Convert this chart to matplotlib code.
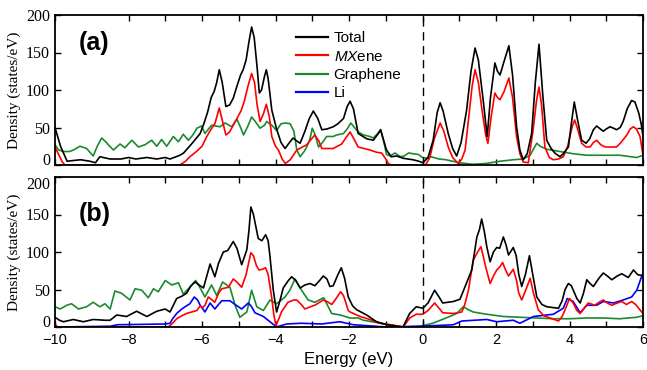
import numpy as np
import matplotlib
matplotlib.use("Agg")
import matplotlib.pyplot as plt
from matplotlib.ticker import FixedLocator

plt.rcParams['font.family'] = ['Liberation Sans', 'DejaVu Sans']
plt.rcParams['mathtext.fontset'] = 'custom'
plt.rcParams['mathtext.it'] = 'Liberation Sans:italic'
plt.rcParams['mathtext.rm'] = 'Liberation Sans'

# ---- panel (a): Li-free ----
a_total_E = [-10, -9.85, -9.67, -9.5, -9.3, -9.05, -8.9, -8.78, -8.5, -8.2, -8.0, -7.8, -7.5, -7.23, -7.0, -6.87,
             -6.6, -6.5, -6.25, -6.05, -5.95, -5.85, -5.75, -5.67, -5.6, -5.53, -5.45, -5.35, -5.25, -5.15, -5.05,
             -4.95, -4.88, -4.8, -4.72, -4.65, -4.58, -4.5, -4.44, -4.38, -4.3, -4.25, -4.2, -4.1, -3.97, -3.85,
             -3.74, -3.62, -3.52, -3.42, -3.33, -3.2, -3.08, -2.97, -2.85, -2.74, -2.6, -2.43, -2.3, -2.15, -2.05,
             -1.97, -1.88, -1.75, -1.52, -1.34, -1.2, -1.14, -1.05, -0.98, -0.85, -0.7, -0.53, -0.4, -0.26, -0.1,
             0.01, 0.15, 0.29, 0.4, 0.48, 0.56, 0.7, 0.82, 0.93, 1.05, 1.2, 1.32, 1.43, 1.52, 1.65, 1.76, 1.85,
             1.97, 2.04, 2.11, 2.2, 2.35, 2.45, 2.56, 2.65, 2.74, 2.85, 2.97, 3.07, 3.17, 3.27, 3.38, 3.5, 3.6,
             3.74, 3.83, 3.97, 4.05, 4.13, 4.22, 4.33, 4.45, 4.55, 4.65, 4.74, 4.84, 4.92, 5.0, 5.1, 5.2, 5.28,
             5.38, 5.46, 5.57, 5.69, 5.78, 5.88, 5.95, 6.0]
a_total = [50, 25, 5, 6, 7, 5, 3, 11, 8, 8, 10, 8, 10, 8, 10, 8,
           13, 16, 30, 42, 55, 70, 90, 98, 110, 127, 110, 78, 80, 89, 105,
           120, 127, 140, 165, 184, 170, 130, 96, 100, 118, 127, 115, 73, 48, 30,
           22, 30, 36, 32, 29, 45, 62, 72, 62, 47, 48, 51, 55, 62, 78,
           85, 75, 42, 35, 33, 42, 47, 32, 20, 11, 12, 9, 8, 7, 5,
           3, 10, 33, 70, 83, 72, 42, 22, 12, 30, 73, 125, 156, 140, 87, 38, 90,
           136, 125, 120, 135, 159, 120, 51, 20, 7, 15, 42, 110, 161, 95, 33, 22, 16,
           11, 15, 24, 55, 84, 60, 33, 29, 35, 47, 52, 48, 45, 48, 51, 49, 47,
           50, 58, 75, 86, 84, 70, 55, 38]

a_mx_E = [-10, -9.9, -9.8, -9.73, -6.6, -6.45, -6.33, -6.15, -6.0, -5.87, -5.75, -5.65, -5.53, -5.45, -5.35, -5.25,
          -5.15, -5.05, -4.93, -4.85, -4.75, -4.65, -4.57, -4.5, -4.42, -4.33, -4.25, -4.17, -4.1, -4.0, -3.92,
          -3.82, -3.73, -3.6, -3.42, -3.15, -3.05, -2.93, -2.82, -2.74, -2.43, -2.2, -2.06, -1.97, -1.88, -1.75,
          -1.43, -1.25, -1.11, -1.0, -0.93, -0.85, 0.08, 0.2, 0.32, 0.48, 0.58, 0.7, 0.82, 0.97, 1.07, 1.16,
          1.25, 1.35, 1.43, 1.52, 1.62, 1.72, 1.78, 1.87, 1.97, 2.04, 2.11, 2.22, 2.35, 2.45, 2.56, 2.65, 2.74,
          2.88, 3.01, 3.1, 3.17, 3.24, 3.33, 3.45, 3.56, 3.7, 3.83, 3.95, 4.01, 4.08, 4.14, 4.22, 4.33, 4.45,
          4.56, 4.65, 4.74, 4.85, 4.97, 5.15, 5.28, 5.4, 5.56, 5.65, 5.74, 5.82, 5.92, 6.0]
a_mx = [24, 14, 4, 0, 0, 5, 11, 18, 25, 38, 48, 55, 76, 60, 40, 44,
        53, 62, 73, 85, 105, 122, 110, 80, 58, 68, 81, 65, 38, 25, 20,
        8, 2, 7, 20, 27, 33, 40, 32, 22, 22, 28, 38, 44, 36, 24,
        20, 17, 16, 8, 2, 0, 0, 10, 35, 56, 45, 24, 10, 2, 8, 20,
        60, 105, 127, 110, 73, 40, 29, 65, 96, 90, 87, 98, 116, 90, 38, 15, 4,
        3, 47, 85, 104, 80, 24, 10, 7, 8, 11, 25, 38, 52, 60, 48, 29, 24,
        24, 30, 33, 27, 24, 24, 24, 30, 40, 48, 51, 48, 38, 13]

a_gr_E = [-10, -9.9, -9.77, -9.6, -9.5, -9.32, -9.14, -8.96, -8.85, -8.73, -8.6, -8.55, -8.41, -8.23, -8.1, -7.91,
          -7.73, -7.55, -7.37, -7.23, -7.1, -6.96, -6.78, -6.64, -6.51, -6.37, -6.25, -6.14, -6.01, -5.92, -5.74,
          -5.62, -5.51, -5.37, -5.19, -5.05, -4.95, -4.87, -4.75, -4.65, -4.55, -4.42, -4.3, -4.24, -4.1, -3.97,
          -3.85, -3.73, -3.6, -3.5, -3.42, -3.33, -3.22, -3.15, -3.06, -3.0, -2.92, -2.83, -2.72, -2.61, -2.43,
          -2.34, -2.15, -2.05, -1.95, -1.85, -1.75, -1.6, -1.43, -1.34, -1.22, -1.14, -1.05, -0.98, -0.88, -0.75,
          -0.6, -0.5, -0.38, -0.25, -0.11, 0.0, 0.1, 0.23, 0.45, 0.64, 1.0, 1.36, 1.72, 2.11, 2.47, 2.74, 2.93,
          3.05, 3.11, 3.2, 3.38, 3.74, 4.1, 4.47, 4.92, 5.37, 5.83, 6.0]
a_gr = [27, 20, 18, 18, 20, 25, 22, 12, 25, 36, 30, 27, 20, 28, 23, 33,
        24, 27, 33, 25, 34, 25, 38, 31, 41, 33, 40, 49, 52, 42, 53,
        52, 51, 56, 51, 61, 50, 40, 52, 64, 58, 49, 53, 58, 53, 46,
        55, 56, 55, 45, 20, 11, 18, 24, 35, 49, 40, 24, 30, 38, 38,
        40, 42, 48, 56, 50, 44, 40, 38, 36, 42, 47, 30, 14, 12, 16,
        11, 12, 16, 15, 14, 10, 9, 11, 8, 7, 3, 1, 2, 5, 7, 8, 13,
        24, 29, 25, 21, 18, 15, 13, 13, 13, 10, 13]

# ---- panel (b): with Li ----
b_total_E = [-10, -9.88, -9.77, -9.5, -9.23, -8.96, -8.64, -8.5, -8.32, -8.05, -7.78, -7.5, -7.23, -7.0, -6.87,
             -6.69, -6.55, -6.42, -6.3, -6.19, -6.05, -5.96, -5.87, -5.78, -5.65, -5.55, -5.42, -5.3, -5.15,
             -5.05, -4.92, -4.78, -4.72, -4.67, -4.6, -4.47, -4.37, -4.27, -4.2, -4.15, -4.06, -3.97, -3.88,
             -3.79, -3.65, -3.56, -3.45, -3.33, -3.2, -3.06, -2.93, -2.8, -2.7, -2.6, -2.52, -2.43, -2.3, -2.21,
             -2.12, -2.02, -1.9, -1.79, -1.52, -1.25, -0.98, -0.53, -0.45, -0.35, -0.17, 0.01, 0.15, 0.33, 0.45,
             0.55, 0.84, 1.02, 1.16, 1.34, 1.48, 1.55, 1.61, 1.68, 1.75, 1.84, 1.93, 2.02, 2.1, 2.2, 2.27, 2.34,
             2.47, 2.55, 2.62, 2.7, 2.8, 2.91, 3.0, 3.11, 3.25, 3.38, 3.7, 3.8, 3.88, 3.97, 4.05, 4.2, 4.29, 4.38,
             4.47, 4.56, 4.65, 4.8, 4.92, 5.03, 5.15, 5.3, 5.42, 5.6, 5.74, 5.85, 5.92, 6.0]
b_total = [13, 9, 7, 10, 7, 10, 9, 9, 16, 14, 21, 14, 21, 24, 20,
           38, 41, 45, 55, 60, 55, 52, 68, 84, 67, 85, 100, 102, 114,
           105, 83, 103, 130, 160, 150, 118, 115, 123, 115, 94, 49, 20, 35,
           52, 62, 67, 62, 52, 56, 58, 55, 62, 68, 64, 54, 55, 70, 79,
           65, 40, 28, 23, 16, 7, 3, 0, 8, 18, 27, 25, 32, 49, 40,
           32, 34, 37, 54, 76, 120, 130, 144, 128, 107, 87, 100, 106, 105, 120, 110, 96,
           106, 95, 70, 54, 70, 95, 70, 40, 30, 27, 25, 35, 50, 58, 55, 38, 32, 45,
           63, 58, 54, 65, 72, 68, 63, 68, 71, 66, 76, 70, 69, 69]

b_mx_E = [-10, -9.93, -6.92, -6.8, -6.69, -6.55, -6.42, -6.28, -6.14, -6.05, -5.98, -5.92, -5.83, -5.75, -5.65,
          -5.55, -5.46, -5.37, -5.28, -5.15, -5.05, -4.92, -4.8, -4.72, -4.67, -4.6, -4.52, -4.45, -4.35, -4.27,
          -4.2, -4.1, -4.05, -3.99, -3.9, -3.84, -3.66, -3.5, -3.42, -3.3, -3.2, -3.05, -2.93, -2.8, -2.7, -2.6,
          -2.47, -2.35, -2.23, -2.15, -2.02, -1.97, -1.7, -1.43, -1.16, -0.88, -0.53, -0.45, -0.35, -0.17, 0.01,
          0.15, 0.33, 0.45, 0.55, 0.84, 1.07, 1.15, 1.25, 1.38, 1.5, 1.59, 1.65, 1.72, 1.84, 1.93, 2.02, 2.1,
          2.18, 2.26, 2.34, 2.47, 2.56, 2.62, 2.7, 2.8, 2.93, 3.02, 3.15, 3.3, 3.47, 3.7, 3.8, 3.88, 4.0, 4.1,
          4.2, 4.29, 4.4, 4.51, 4.69, 4.8, 4.92, 5.03, 5.15, 5.3, 5.42, 5.55, 5.69, 5.8, 5.88, 6.0]
b_mx = [4, 0, 0, 5, 11, 15, 18, 20, 22, 28, 26, 29, 40, 37, 33,
        45, 51, 52, 53, 64, 60, 53, 70, 88, 99, 95, 82, 76, 77, 79,
        70, 38, 18, 2, 12, 20, 33, 36, 36, 30, 24, 27, 29, 33, 36, 34,
        30, 38, 47, 42, 22, 20, 14, 10, 5, 3, 0, 5, 12, 17, 17,
        22, 32, 25, 19, 18, 20, 30, 49, 89, 100, 107, 95, 80, 58, 68, 76, 80,
        86, 76, 68, 77, 62, 45, 36, 48, 65, 45, 23, 15, 12, 8, 14, 23, 38, 32,
        22, 18, 25, 32, 29, 33, 36, 32, 29, 32, 34, 30, 34, 30, 25, 18]

b_gr_E = [-10, -9.86, -9.68, -9.55, -9.36, -9.14, -8.96, -8.78, -8.64, -8.5, -8.37, -8.19, -7.96, -7.82, -7.64,
          -7.46, -7.32, -7.19, -7.0, -6.82, -6.64, -6.51, -6.33, -6.17, -6.05, -5.92, -5.74, -5.6, -5.44, -5.24,
          -5.1, -4.97, -4.78, -4.65, -4.51, -4.33, -4.15, -3.97, -3.74, -3.61, -3.47, -3.29, -3.11, -2.93, -2.69,
          -2.47, -2.24, -1.97, -1.75, -1.61, -1.25, -0.88, -0.53, -0.07, 0.28, 0.64, 0.93, 1.11, 1.25, 1.38,
          1.75, 2.2, 2.65, 3.11, 3.56, 4.0, 4.47, 4.92, 5.37, 5.83, 6.0]
b_gr = [27, 24, 29, 31, 24, 27, 33, 27, 31, 24, 48, 45, 36, 51, 49,
        39, 51, 47, 62, 56, 59, 44, 53, 62, 52, 40, 56, 42, 60, 53,
        29, 13, 20, 49, 27, 22, 36, 31, 40, 49, 64, 49, 36, 33, 39,
        18, 16, 12, 12, 9, 6, 3, 0, 1, 5, 12, 18, 27, 23, 20,
        17, 14, 13, 12, 11, 11, 12, 12, 11, 13, 15]

b_li_E = [-10, -8.5, -8.3, -7.0, -6.87, -6.8, -6.69, -6.55, -6.46, -6.33, -6.21, -6.12, -6.05, -5.92, -5.78,
          -5.65, -5.55, -5.46, -5.24, -5.1, -5.01, -4.92, -4.74, -4.65, -4.56, -4.33, -4.15, -3.97, -3.7, -3.3,
          -2.75, -2.25, -1.88, -0.98, -0.07, 0.84, 1.07, 1.75, 2.02, 2.47, 2.65, 3.02, 3.56, 3.83, 3.94, 4.1,
          4.29, 4.47, 4.74, 4.92, 5.2, 5.46, 5.69, 5.83, 5.96, 6.0]
b_li = [0, 1, 3, 4, 5, 11, 18, 24, 27, 31, 40, 36, 29, 20, 32,
        24, 30, 35, 35, 30, 27, 24, 32, 27, 19, 14, 7, 0, 4, 5,
        4, 7, 3, 0, 1, 3, 8, 10, 7, 9, 5, 14, 17, 25, 38, 34,
        19, 29, 29, 34, 32, 36, 40, 49, 67, 71]

series_names = ["Total", r"$\mathit{MX}$ene", "Graphene", "Li"]
series_colors = ["black", "#ff0000", "#1a8a2e", "#0000ff"]

fig = plt.figure(figsize=(6.47, 3.70), dpi=100)
ax_a = fig.add_axes([55 / 647, 1 - 165 / 370, 588 / 647, 150 / 370])
ax_b = fig.add_axes([55 / 647, 1 - 327 / 370, 588 / 647, 150 / 370])

lw = 1.2
ax_a.plot(a_gr_E, a_gr, color=series_colors[2], lw=lw)
ax_a.plot(a_mx_E, a_mx, color=series_colors[1], lw=lw)
ax_a.plot(a_total_E, a_total, color=series_colors[0], lw=lw)

ax_b.plot(b_gr_E, b_gr, color=series_colors[2], lw=lw)
ax_b.plot(b_li_E, b_li, color=series_colors[3], lw=lw)
ax_b.plot(b_mx_E, b_mx, color=series_colors[1], lw=lw)
ax_b.plot(b_total_E, b_total, color=series_colors[0], lw=lw)

for ax, lab, ly in [(ax_a, "(a)", 0.815), (ax_b, "(b)", 0.75)]:
    ax.set_xlim(-10, 6)
    ax.set_ylim(0, 200)
    ax.axvline(0, color="black", lw=1.0, ls=(0, (6, 4)))
    ax.set_yticks([0, 50, 100, 150, 200])
    ax.set_xticks([-10, -8, -6, -4, -2, 0, 2, 4, 6])
    ax.xaxis.set_minor_locator(FixedLocator([-7, -5, -3, -1, 1, 3, 5]))
    ax.tick_params(which="both", direction="in", top=True, right=True, length=4.5, width=1.0)
    for s in ax.spines.values():
        s.set_linewidth(1.3)
    ylabs = ax.get_yticklabels()
    for t in ylabs:
        t.set_family("Liberation Serif")
        t.set_fontsize(11.5)
    # the bottom "0" sits on its tick, like the reference
    ylabs[0].set_verticalalignment("baseline")
    if ax is ax_b:
        ylabs[-1].set_verticalalignment("top")
    ax.set_ylabel("Density (states/eV)", family="Liberation Serif", fontsize=11, labelpad=4)
    ax.text(0.04, ly, lab, transform=ax.transAxes, fontsize=18, fontweight="bold", va="center")

ax_a.tick_params(labelbottom=False)
ax_b.tick_params(axis="x", labelsize=10.5, pad=4)
ax_b.set_xlabel("Energy (eV)", fontsize=12, labelpad=4)

handles = [plt.Line2D([], [], color=c, lw=1.6) for c in series_colors]
ax_a.legend(handles, series_names, loc="upper left", bbox_to_anchor=(0.41, 0.89), frameon=False,
            fontsize=11, handlelength=2.1, handletextpad=0.35, labelspacing=0.28, borderpad=0, borderaxespad=0)

fig.savefig("out.png", dpi=100)
